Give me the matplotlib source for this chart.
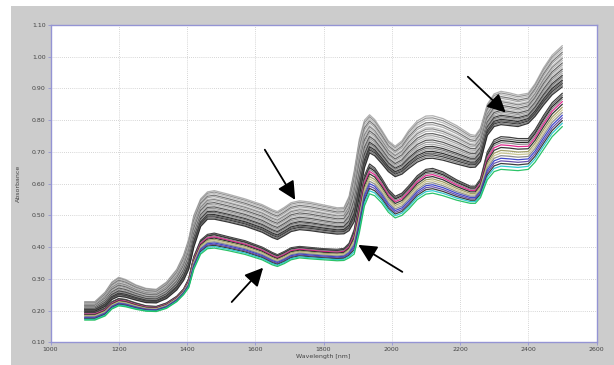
import numpy as np
import matplotlib
matplotlib.use("Agg")
import matplotlib.pyplot as plt
from matplotlib.patches import Rectangle

# ---- data ----
wavelengths = [1100, 1130, 1160, 1180, 1200, 1220, 1250, 1280, 1310, 1340,
               1370, 1390, 1405, 1420, 1440, 1460, 1480, 1520, 1570, 1620,
               1650, 1665, 1685, 1705, 1730, 1760, 1800, 1840, 1860, 1875,
               1890, 1905, 1920, 1935, 1950, 1970, 1990, 2010, 2030, 2050,
               2075, 2100, 2120, 2150, 2190, 2230, 2245, 2260, 2280, 2300,
               2320, 2345, 2370, 2400, 2420, 2445, 2470, 2500]

upper_top = [0.228, 0.228, 0.258, 0.290, 0.305, 0.298, 0.281, 0.270, 0.267, 0.290,
             0.330, 0.375, 0.425, 0.500, 0.552, 0.574, 0.578, 0.567, 0.552, 0.534,
             0.518, 0.512, 0.525, 0.540, 0.546, 0.542, 0.533, 0.524, 0.525, 0.560,
             0.640, 0.740, 0.800, 0.817, 0.802, 0.770, 0.735, 0.718, 0.735, 0.768,
             0.798, 0.813, 0.814, 0.805, 0.783, 0.755, 0.752, 0.775, 0.850, 0.883,
             0.891, 0.886, 0.879, 0.885, 0.915, 0.965, 1.005, 1.035]
upper_bottom = [0.198, 0.198, 0.213, 0.235, 0.245, 0.242, 0.233, 0.225, 0.224, 0.238,
                0.265, 0.295, 0.330, 0.400, 0.465, 0.488, 0.488, 0.479, 0.466, 0.447,
                0.430, 0.424, 0.436, 0.449, 0.455, 0.452, 0.446, 0.441, 0.442, 0.452,
                0.480, 0.560, 0.650, 0.697, 0.688, 0.664, 0.638, 0.622, 0.630, 0.648,
                0.668, 0.679, 0.680, 0.674, 0.662, 0.651, 0.652, 0.670, 0.752, 0.780,
                0.786, 0.783, 0.780, 0.790, 0.812, 0.848, 0.880, 0.905]
lower_top = [0.195, 0.195, 0.208, 0.228, 0.238, 0.235, 0.224, 0.215, 0.213, 0.224,
             0.245, 0.268, 0.300, 0.370, 0.422, 0.440, 0.444, 0.433, 0.420, 0.400,
             0.383, 0.376, 0.386, 0.398, 0.402, 0.399, 0.395, 0.393, 0.396, 0.412,
             0.455, 0.540, 0.625, 0.662, 0.650, 0.618, 0.582, 0.560, 0.570, 0.593,
             0.625, 0.645, 0.648, 0.637, 0.612, 0.592, 0.592, 0.615, 0.700, 0.738,
             0.748, 0.746, 0.742, 0.742, 0.770, 0.815, 0.855, 0.885]
lower_bottom = [0.170, 0.170, 0.183, 0.205, 0.215, 0.212, 0.204, 0.198, 0.197, 0.207,
                0.228, 0.250, 0.272, 0.330, 0.378, 0.395, 0.397, 0.389, 0.377, 0.360,
                0.344, 0.339, 0.348, 0.360, 0.366, 0.363, 0.360, 0.357, 0.358, 0.366,
                0.378, 0.445, 0.530, 0.568, 0.562, 0.540, 0.510, 0.492, 0.500, 0.520,
                0.550, 0.567, 0.570, 0.562, 0.548, 0.538, 0.538, 0.556, 0.612, 0.638,
                0.645, 0.643, 0.641, 0.645, 0.668, 0.708, 0.748, 0.780]

# position of each spectrum within its band (0 = top edge, 1 = bottom edge)
upper_fracs = [0.0, 0.05, 0.10, 0.16, 0.21, 0.27, 0.31, 0.36, 0.42, 0.47, 0.52,
               0.57, 0.62, 0.67, 0.72, 0.76, 0.80, 0.84, 0.88, 0.92, 0.96, 1.0]
upper_colors = ['#a8a8a8', '#8a8a8a', '#b8b8b8', '#6a6a6a', '#a0a0a0', '#c4c4c4', '#7a7a7a',
                '#b0b0b0', '#555555', '#9c9c9c', '#bcbcbc', '#4a4a4a', '#8c8c8c', '#a4a4a4',
                '#2a2a2a', '#6a6a6a', '#9a9a9a', '#1a1a1a', '#5a5a5a', '#2a2a2a', '#777777',
                '#222222']
lower_fracs = [0.0, 0.06, 0.12, 0.18, 0.25, 0.33, 0.42, 0.50, 0.58, 0.66, 0.74, 0.82, 0.90, 1.0]
lower_colors = ['#333333', '#666666', '#1a1a1a', '#888888', '#e0208a', '#2a2a2a', '#9c9a60',
                '#c8c490', '#888888', '#3840c8', '#6048a8', '#333333', '#28c8d0', '#20c060']

x = np.array(wavelengths)

fig = plt.figure(figsize=(6.14, 3.65), dpi=100)
fig.patch.set_facecolor('white')
fig.patches.append(Rectangle((11 / 614, 0), 1, (365 - 6) / 365, transform=fig.transFigure,
                             facecolor='#cccccc', edgecolor='none', zorder=-10))

ax = fig.add_axes([50.5 / 614, (365 - 342.3) / 365, 546 / 614, 317.3 / 365])
ax.set_zorder(1)
ax.set_facecolor('white')

ut, ub = np.array(upper_top), np.array(upper_bottom)
lt, lb = np.array(lower_top), np.array(lower_bottom)
for f, c in zip(upper_fracs, upper_colors):
    ax.plot(x, ut + f * (ub - ut), color=c, lw=0.9, alpha=0.9,
            solid_joinstyle='round', solid_capstyle='round')
for f, c in zip(lower_fracs, lower_colors):
    ax.plot(x, lt + f * (lb - lt), color=c, lw=0.9, alpha=0.95,
            solid_joinstyle='round', solid_capstyle='round')

ax.set_xlim(1000, 2600)
ax.set_ylim(0.10, 1.10)
ax.set_xticks(np.arange(1000, 2601, 200))
ax.set_yticks(np.arange(0.10, 1.101, 0.10))
ax.set_yticklabels([f"{v:.2f}" for v in np.arange(0.10, 1.101, 0.10)])
ax.grid(True, color='#c8c8c8', linestyle=(0, (1, 1.5)), linewidth=0.6)
ax.set_axisbelow(True)
for s in ax.spines.values():
    s.set_color('#9494d4')
    s.set_linewidth(1.0)
ax.tick_params(axis='both', labelsize=4.5, colors='#9494d4', labelcolor='#444444',
               length=2, width=0.6, pad=1.5)
ax.set_xlabel('Wavelength [nm]', fontsize=4.5, color='#444444', labelpad=1)
ax.set_ylabel('Absorbance', fontsize=4.5, color='#444444', labelpad=8)

arrows = [((1628, 0.707), (1717, 0.549)),
          ((1531, 0.227), (1623, 0.335)),
          ((2031, 0.322), (1902, 0.407)),
          ((2223, 0.937), (2334, 0.824))]
for tail, tip in arrows:
    ax.annotate('', xy=tip, xytext=tail,
                arrowprops=dict(arrowstyle='-|>,head_length=1.1,head_width=0.55',
                                color='black', lw=1.3, shrinkA=0, shrinkB=0))

fig.savefig('out.png', dpi=100)
